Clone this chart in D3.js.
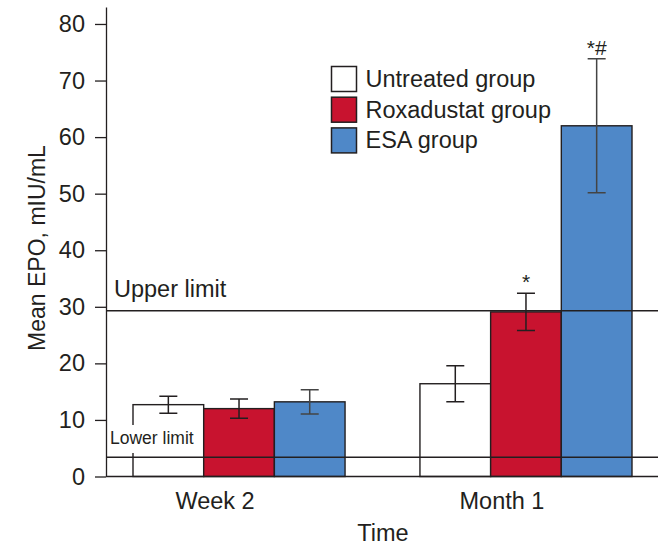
<!DOCTYPE html>
<html>
<head>
<meta charset="utf-8">
<script src="https://cdn.jsdelivr.net/npm/d3@7"></script>
<style>
  body { margin: 0; background: #fff; }
  svg { display: block; font-family: "Liberation Sans", Arial, sans-serif; }
</style>
</head>
<body>
<div id="chart"></div>
<script>
// data
const groups = ["Week 2", "Month 1"];
const seriesNames = ["Untreated group", "Roxadustat group", "ESA group"];
const untreatedMean = [12.7, 16.4];
const untreatedErr = [1.5, 3.2];
const roxadustatMean = [12.0, 29.1];
const roxadustatErr = [1.7, 3.3];
const esaMean = [13.2, 62.0];
const esaErr = [2.15, 11.85];
const yTicks = [0, 10, 20, 30, 40, 50, 60, 70, 80];
const upperLimit = 29.3;
const lowerLimit = 3.4;
// significance marks, per series and group
const marks = [["", ""], ["", "*"], ["", "*#"]];

const colors = ["#ffffff", "#c8132f", "#4f88c8"];
const ink = "#231f20";
const fs = 23.5;

const width = 667, height = 545;
const plotLeft = 106, plotRight = 658, plotTop = 7, plotBottom = 476.5;

const svg = d3.select("#chart").append("svg")
	.attr("width", width)
	.attr("height", height);

/* scales */
const y = d3.scaleLinear().domain([0, 83]).range([plotBottom, plotTop]);
const x0 = d3.scaleBand().domain(groups).range([133, 632]).paddingInner(0.261).paddingOuter(0);
const x1 = d3.scaleBand().domain(seriesNames).range([0, x0.bandwidth()]).padding(0);

const means = [untreatedMean, roxadustatMean, esaMean];
const errs = [untreatedErr, roxadustatErr, esaErr];

const rows = [];
seriesNames.forEach((s, i) => {
	groups.forEach((g, j) => {
		rows.push({ series: s, group: g, idx: i, mean: means[i][j], err: errs[i][j], mark: marks[i][j] });
	});
});

/* bars */
const bars = svg.append("g").attr("class", "bars");
bars.selectAll("rect")
	.data(rows)
	.enter().append("rect")
		.attr("x", d => x0(d.group) + x1(d.series))
		.attr("y", d => y(d.mean))
		.attr("width", x1.bandwidth())
		.attr("height", d => y(0) - y(d.mean))
		.attr("fill", d => colors[d.idx])
		.attr("stroke", ink)
		.attr("stroke-width", 1.4);

/* error bars */
const cap = 9;
const eb = svg.append("g").attr("class", "errorbars")
	.attr("stroke", ink)
	.attr("stroke-width", 1.5)
	.attr("fill", "none");
rows.forEach(d => {
	const cx = x0(d.group) + x1(d.series) + x1.bandwidth() / 2;
	const hi = y(d.mean + d.err), lo = y(d.mean - d.err);
	eb.append("path")
		.attr("stroke", d.idx === 2 ? "#444" : ink)
		.attr("d", `M${cx},${hi}V${lo}M${cx - cap},${hi}H${cx + cap}M${cx - cap},${lo}H${cx + cap}`);
	if (d.mark) {
		svg.append("text")
			.attr("x", cx)
			.attr("y", hi - 4)
			.attr("text-anchor", "middle")
			.attr("font-size", 21)
			.attr("fill", ink)
			.text(d.mark);
	}
});

/* lower limit label, with white box over the bar edge */
svg.append("rect")
	.attr("x", 108).attr("y", 425)
	.attr("width", 88).attr("height", 28)
	.attr("fill", "#fff");
svg.append("text")
	.attr("x", 110).attr("y", 444)
	.attr("font-size", 17.5)
	.attr("fill", ink)
	.text("Lower limit");

/* reference lines */
[upperLimit, lowerLimit].forEach(v => {
	svg.append("line")
		.attr("x1", plotLeft).attr("x2", plotRight)
		.attr("y1", y(v)).attr("y2", y(v))
		.attr("stroke", ink)
		.attr("stroke-width", 1.3);
});
svg.append("text")
	.attr("x", 114).attr("y", y(upperLimit) - 14)
	.attr("font-size", fs)
	.attr("fill", ink)
	.text("Upper limit");

/* y axis */
const yAxis = svg.append("g")
	.attr("transform", `translate(${plotLeft},0)`)
	.call(d3.axisLeft(y).tickValues(yTicks).tickSize(11).tickSizeOuter(0).tickPadding(10));
yAxis.selectAll("path, line").attr("stroke", ink).attr("stroke-width", 1.3);
yAxis.selectAll("text").attr("font-size", fs).attr("fill", ink).attr("font-family", null);

/* x axis */
svg.append("line")
	.attr("x1", plotLeft).attr("x2", plotRight)
	.attr("y1", y(0)).attr("y2", y(0))
	.attr("stroke", ink).attr("stroke-width", 1.3);
const xAxis = svg.append("g")
	.attr("transform", `translate(0,${y(0)})`)
	.call(d3.axisBottom(x0).tickSize(0).tickPadding(16));
xAxis.select(".domain").remove();
xAxis.selectAll("text").attr("font-size", fs).attr("fill", ink).attr("font-family", null).attr("dx", -24);

/* axis titles */
svg.append("text")
	.attr("x", 383).attr("y", 541)
	.attr("text-anchor", "middle")
	.attr("font-size", fs)
	.attr("fill", ink)
	.text("Time");
svg.append("text")
	.attr("transform", "translate(45,248) rotate(-90)")
	.attr("text-anchor", "middle")
	.attr("font-size", 23)
	.attr("fill", ink)
	.text("Mean EPO, mIU/mL");

/* legend */
const legend = svg.append("g").attr("transform", "translate(331.5,66.5)");
const item = legend.selectAll("g")
	.data(seriesNames)
	.enter().append("g")
		.attr("transform", (d, i) => `translate(0,${i * 30.7})`);
item.append("rect")
	.attr("width", 25).attr("height", 25)
	.attr("fill", (d, i) => colors[i])
	.attr("stroke", ink)
	.attr("stroke-width", 1.5);
item.append("text")
	.attr("x", 34).attr("y", 20.5)
	.attr("font-size", fs)
	.attr("fill", ink)
	.text(d => d);
</script>
</body>
</html>
